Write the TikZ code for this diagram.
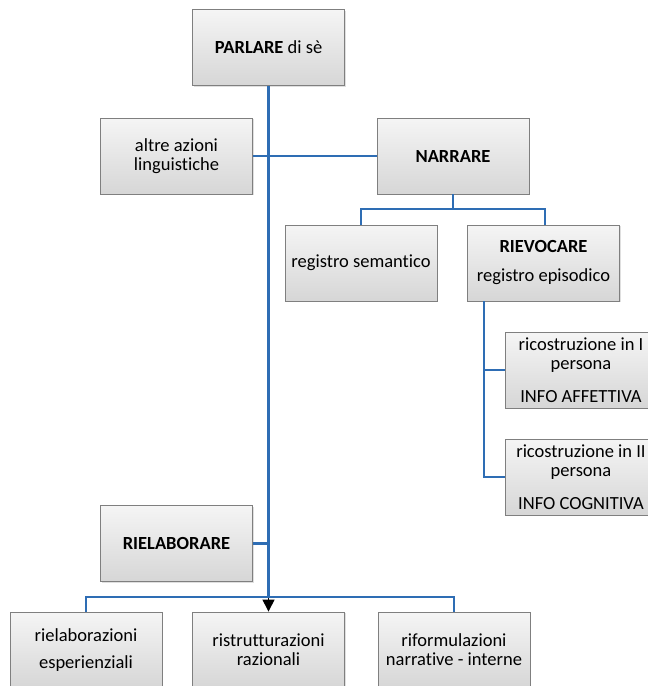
\documentclass[tikz,border=0pt]{standalone}
\usepackage{fontspec}
\setmainfont{Carlito}[Ligatures={NoCommon}]
\usetikzlibrary{arrows.meta,shadows}
\definecolor{linkblue}{HTML}{2E6DB4}
\definecolor{boxborder}{HTML}{7F7F7F}
\begin{document}
\begin{tikzpicture}[x=1pt,y=-1pt,
  box/.style={draw=boxborder, line width=0.8pt, top color=gray!8, bottom color=gray!32,
    minimum width=152pt, minimum height=76pt, align=center, inner sep=1pt,
    font=\fontsize{18.5}{19}\selectfont,
    drop shadow={shadow xshift=1.2pt, shadow yshift=-1.2pt, opacity=0.25}},
  link/.style={draw=linkblue, line width=2.4pt}]
\useasboundingbox (0,0) rectangle (648,686);
\node[box] (parlare) at (268.5,47.5) {\textbf{PARLARE} di sè};
\node[box] (altre) at (176.5,156) {altre azioni\\linguistiche};
\node[box] (narrare) at (453,156) {\textbf{NARRARE}};
\node[box] (semantico) at (361,263) {registro semantico};
\node[box] (rievocare) at (543.5,263) {\textbf{RIEVOCARE}\\[10pt]registro episodico};
\node[box] (ricI) at (581,370) {ricostruzione in I\\persona\\[14pt]INFO AFFETTIVA};
\node[box] (ricII) at (581,477) {ricostruzione in II\\persona\\[14pt]INFO COGNITIVA};
\node[box] (rielab) at (176.5,543.5) {\textbf{RIELABORARE}};
\node[box] (bA) at (86,650) {rielaborazioni\\[8pt]esperienziali};
\node[box] (bB) at (268.5,650) {ristrutturazioni\\razionali};
\node[box] (bC) at (454,650) {riformulazioni\\narrative - interne};
\coordinate (bus) at (268.5,597);
\coordinate (nsplit) at (453,209);
\coordinate (rtrunk) at (484,301);
% connectors
\draw[link] (parlare.south) -- (bus);
\draw[-{Triangle[length=12pt,width=12pt]}, black, line width=1pt] (bus) -- (bB.north);
\draw[link] (altre.east) -- (narrare.west);
\draw[link] (rielab.east) -- (rielab.east -| bus);
\draw[link] (narrare.south) -- (nsplit) -| (semantico.north);
\draw[link] (nsplit) -| ([xshift=1.5pt]rievocare.north);
\draw[link] (rtrunk) |- (ricI.west);
\draw[link] (rtrunk) |- (ricII.west);
\draw[link] (bA.north) |- (bus) -| (bC.north);
\end{tikzpicture}
\end{document}
